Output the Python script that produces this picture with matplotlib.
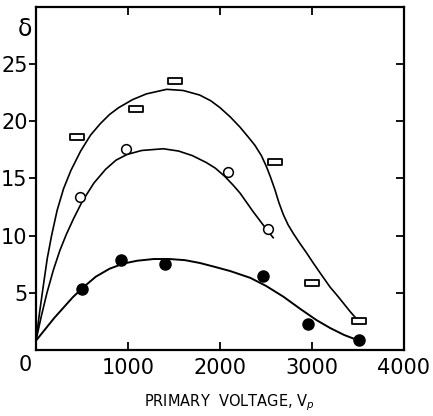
import matplotlib.pyplot as plt
from matplotlib.path import Path
import matplotlib.transforms as mtransforms

# measured points (primary voltage, delta)
rect_v = [450, 1090, 1510, 2600, 3000, 3510]
rect_d = [18.6, 21.1, 23.5, 16.4, 5.85, 2.5]

open_v = [480, 980, 2090, 2520]
open_d = [13.4, 17.6, 15.6, 10.6]

fill_v = [500, 925, 1400, 2470, 2960, 3510]
fill_d = [5.3, 7.9, 7.5, 6.5, 2.3, 0.9]

# hand drawn curves
top_v = [0, 40, 80, 123, 170, 230, 300, 380, 486, 594, 700, 800, 900, 1050,
         1200, 1420, 1600, 1780, 1900, 2000, 2110, 2217, 2300, 2380, 2450,
         2507, 2550, 2598, 2640, 2688, 2740, 2800, 2870, 2940, 3014, 3100,
         3196, 3270, 3340, 3420, 3486, 3520]
top_d = [0.8, 3.3, 5.6, 8.0, 10.0, 12.2, 14.1, 15.7, 17.4, 18.8, 19.8, 20.6,
         21.2, 21.9, 22.4, 22.8, 22.7, 22.3, 21.8, 21.2, 20.4, 19.5, 18.7,
         17.9, 17.0, 16.0, 15.1, 14.0, 12.9, 11.85, 10.95, 10.15, 9.3, 8.5,
         7.6, 6.6, 5.5, 4.8, 4.1, 3.3, 2.7, 2.5]

mid_v = [0, 60, 120, 190, 260, 330, 410, 504, 630, 757, 870, 990, 1150, 1384,
         1550, 1700, 1850, 1950, 2050, 2145, 2220, 2290, 2360, 2435, 2510, 2580]
mid_d = [0.8, 3.0, 5.0, 7.0, 8.7, 10.1, 11.5, 13.0, 14.6, 15.8, 16.6, 17.1,
         17.45, 17.6, 17.4, 17.0, 16.4, 15.9, 15.2, 14.4, 13.7, 12.9, 12.1,
         11.3, 10.5, 9.8]

low_v = [0, 100, 200, 300, 400, 504, 650, 800, 950, 1100, 1280, 1450, 1620,
         1783, 1950, 2110, 2330, 2500, 2690, 2870, 3050, 3200, 3350, 3490]
low_d = [0.8, 1.8, 2.8, 3.7, 4.6, 5.4, 6.4, 7.1, 7.55, 7.8, 7.95, 7.95, 7.85,
         7.6, 7.25, 6.9, 6.3, 5.6, 4.65, 3.6, 2.6, 1.9, 1.3, 0.87]

xticks = [1000, 2000, 3000, 4000]
yticks = [5, 10, 15, 20, 25]

plt.rcParams['font.family'] = ['DejaVu Sans']

fig = plt.figure(figsize=(4.33, 4.16), dpi=100)
ax = fig.add_axes([0.083, 0.159, 0.850, 0.824])

box = Path([(-1, -0.5), (1, -0.5), (1, 0.5), (-1, 0.5), (-1, -0.5)],
           [Path.MOVETO, Path.LINETO, Path.LINETO, Path.LINETO, Path.CLOSEPOLY])

line_kw = dict(color='black', solid_joinstyle='round', solid_capstyle='round')
ax.plot(top_v, top_d, lw=1.2, **line_kw)
ax.plot(mid_v, mid_d, lw=1.2, **line_kw)
ax.plot(low_v, low_d, lw=1.4, **line_kw)

ax.plot(rect_v, rect_d, ls='none', marker=box, ms=9.5, mfc='white',
        mec='black', mew=1.3)
ax.plot(open_v, open_d, ls='none', marker='o', ms=7, mfc='white',
        mec='black', mew=1.1)
ax.plot(fill_v, fill_d, ls='none', marker='o', ms=8, color='black')

ax.set_xlim(0, 4000)
ax.set_ylim(0, 30)
ax.set_xticks(xticks, labels=[str(v) for v in xticks])
ax.set_yticks(yticks, labels=[str(v) for v in yticks])
ax.tick_params(axis='x', direction='in', top=True, length=6, width=1.3,
               labelsize=15, pad=6)
ax.tick_params(axis='y', direction='out', length=5, width=1.3, labelsize=15, pad=1)
for s in ax.spines.values():
    s.set_linewidth(1.6)

ax2 = ax.twinx()
ax2.set_ylim(0, 30)
ax2.set_yticks(yticks)
ax2.tick_params(axis='y', direction='in', length=6, width=1.3, labelright=False)
for s in ax2.spines.values():
    s.set_visible(False)

ax.text(-0.012, -0.045, '0', transform=ax.transAxes, ha='right', va='center',
        fontsize=15)
lab = mtransforms.blended_transform_factory(ax.transAxes, ax.transData)
ax.text(-0.01, 28.1, 'δ', transform=lab, ha='right', va='center', fontsize=17)

fig.text(0.53, 0.031, 'PRIMARY  VOLTAGE, V$_p$', ha='center', va='center',
         fontsize=10.5)

fig.savefig('out.png', dpi=100)
